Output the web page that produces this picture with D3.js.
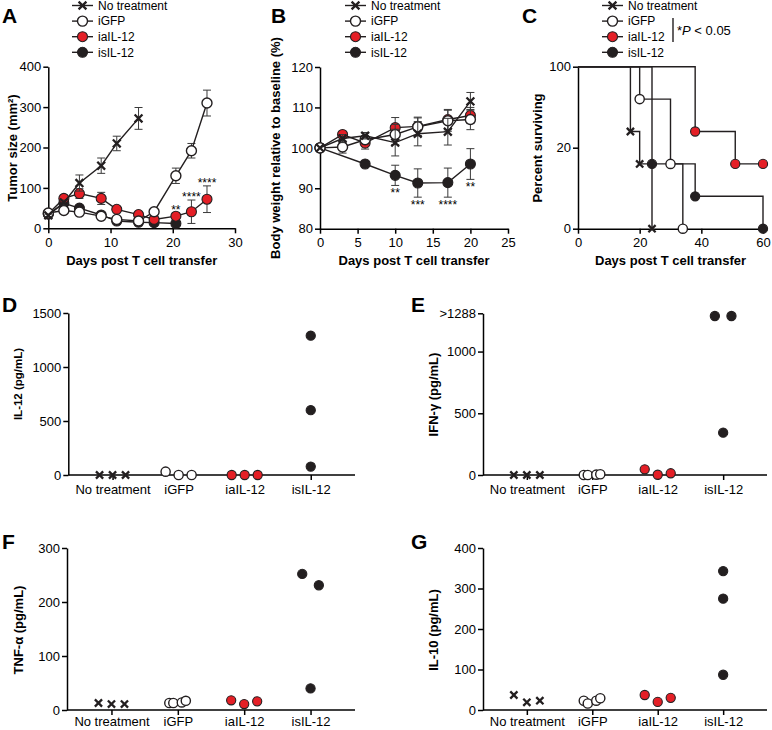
<!DOCTYPE html>
<html><head><meta charset="utf-8">
<script src="https://cdn.jsdelivr.net/npm/d3@7"></script>
<style>
body{margin:0;background:#fff}
svg{display:block}
</style>
</head><body>
<svg id="fig" width="772" height="730"></svg>
<script>
// ================= DATA =================
const groups = ["No treatment", "iGFP", "iaIL-12", "isIL-12"];

// Panel A: tumor size (mm2), mean and SEM
const aDaysNT  = [0, 2.5, 5, 8.5, 11, 14.5];
const aMeanNT  = [32, 64, 112, 155, 210, 272];
const aErrNT   = [3, 6, 20, 19, 18, 27];
const aDaysGFP = [0, 2.5, 5, 8.5, 11, 14.5, 17, 20.5, 23, 25.5];
const aMeanGFP = [38, 44, 40, 30, 22, 18, 41, 130, 192, 310];
const aErrGFP  = [3, 5, 5, 5, 4, 3, 5, 19, 18, 32];
const aDaysIA  = [0, 2.5, 5, 8.5, 11, 14.5, 17, 20.5, 23, 25.5];
const aMeanIA  = [36, 74, 86, 74, 47, 34, 22, 30, 41, 72];
const aErrIA   = [4, 8, 12, 15, 6, 5, 5, 8, 29, 33];
const aDaysIS  = [0, 2.5, 5, 8.5, 11, 14.5, 17, 20.5];
const aMeanIS  = [35, 62, 50, 33, 18, 15, 14, 12];
const aErrIS   = [3, 6, 6, 4, 3, 3, 3, 3];
const aStarDays = [20.5, 23, 25.5];
const aStars    = ["**", "****", "****"];
const aXTicks = [0, 10, 20, 30];
const aYTicks = [0, 100, 200, 300, 400];

// Panel B: body weight relative to baseline (%)
const bDays     = [0, 3, 6, 10, 13, 17, 20];
const bMeanNT   = [100, 102.3, 103, 101.3, 103.5, 104, 111.5];
const bErrNT    = [0, 1, 0.8, 3.3, 3, 3.3, 2.2];
const bMeanGFP  = [100, 100.2, 102, 103.3, 105.2, 106.7, 107];
const bErrGFP   = [0, 1.5, 1, 2.5, 2.2, 2.6, 2.5];
const bMeanIA   = [100, 103.3, 101.2, 105, 105.3, 107, 108];
const bErrIA    = [0, 0.7, 1.5, 2.5, 2.3, 2.5, 2];
const bDaysIS   = [0, 6, 10, 13, 17, 20];
const bMeanIS   = [100, 96, 93.2, 91.3, 91.4, 96];
const bErrIS    = [0, 0.6, 2.5, 3.5, 3.6, 3.8];
const bStarDays = [10, 13, 17, 20];
const bStars    = ["**", "***", "****", "**"];
const bXTicks = [0, 5, 10, 15, 20, 25];
const bYTicks = [80, 90, 100, 110, 120];

// Panel C: survival (percent surviving)
const cTimesNT  = [0, 17, 20, 24];
const cSurvNT   = [100, 60, 40, 0];
const cTimesGFP = [0, 20, 30, 34];
const cSurvGFP  = [100, 80, 40, 0];
const cTimesIA  = [0, 38, 51, 60];
const cSurvIA   = [100, 60, 40, 40];
const cTimesIS  = [0, 24, 38, 60];
const cSurvIS   = [100, 40, 20, 0];
const cXTicks = [0, 20, 40, 60];
const cYTicks = [0, 50, 100];
const cYTickLabels = ["0", "20", "100"];

// Panel D: IL-12 (pg/mL)
const dNT = [0, 0, 0], dGFP = [31, 0, 0], dIA = [0, 0, 0], dIS = [1290, 600, 78];
const dYTicks = [0, 500, 1000, 1500];
// Panel E: IFN-gamma (pg/mL)
const eNT = [0, 0, 0], eGFP = [0, 0, 3, 6], eIA = [46, 2, 14], eIS = [1288, 1288, 343];
const eYTicks = [0, 500, 1000, 1310];
const eYTickLabels = ["0", "500", "1000", ">1288"];
// Panel F: TNF-alpha (pg/mL)
const fNT = [13, 11, 11], fGFP = [13, 13, 14, 17], fIA = [18, 11, 16], fIS = [252, 231, 40];
const fYTicks = [0, 100, 200, 300];
// Panel G: IL-10 (pg/mL)
const gNT = [37, 19, 23], gGFP = [23, 16, 23, 29], gIA = [37, 20, 30], gIS = [343, 275, 87];
const gYTicks = [0, 100, 200, 300, 400];

// ================= DRAWING =================
const FONT = '"Liberation Sans", Arial, Helvetica, sans-serif';
const RED = "#e41f26", DARK = "#231f20";
const svg = d3.select("#fig").attr("font-family", FONT);
const types = ["x", "open", "red", "dark"];

function drawMarker(g, type, x, y, r) {
  if (type === "x") {
    const s = r * 0.78;
    g.append("path").attr("d", `M${x-s},${y-s}L${x+s},${y+s}M${x-s},${y+s}L${x+s},${y-s}`)
      .attr("stroke", DARK).attr("stroke-width", 2.3).attr("fill", "none");
  } else {
    g.append("circle").attr("cx", x).attr("cy", y).attr("r", r)
      .attr("fill", type === "open" ? "#fff" : type === "red" ? RED : DARK)
      .attr("stroke", DARK).attr("stroke-width", type === "open" ? 1.4 : 1.1);
  }
}

function styleAxis(sel, fs) {
  sel.select(".domain").attr("stroke", "#000").attr("stroke-width", 1.5);
  sel.selectAll(".tick line").attr("stroke", "#000").attr("stroke-width", 1.5);
  sel.selectAll(".tick text").attr("font-size", fs || 13).attr("font-family", FONT).attr("fill", "#000");
}

function letter(t, x, y) {
  svg.append("text").attr("x", x).attr("y", y).attr("font-size", 21).attr("font-weight", "bold").text(t);
}

function yTitle(t, x, y, fs) {
  svg.append("text").attr("transform", `translate(${x},${y}) rotate(-90)`)
    .attr("text-anchor", "middle").attr("font-size", fs || 13).attr("font-weight", "bold").text(t);
}
function xTitle(t, x, y) {
  svg.append("text").attr("x", x).attr("y", y)
    .attr("text-anchor", "middle").attr("font-size", 13).attr("font-weight", "bold").text(t);
}

function legend(x0, y0) {
  const g = svg.append("g");
  groups.forEach((name, i) => {
    const y = y0 + i * 15.6;
    g.append("line").attr("x1", x0).attr("x2", x0 + 21).attr("y1", y).attr("y2", y)
      .attr("stroke", DARK).attr("stroke-width", 1.4);
    drawMarker(g, types[i], x0 + 10.5, y, 5);
    g.append("text").attr("x", x0 + 26).attr("y", y + 4.3).attr("font-size", 12).text(name);
  });
  return g;
}

function axes(g, x, y, xt, yt, ytl) {
  const ax = g.append("g").attr("transform", `translate(0,${y.range()[0]})`)
    .call(d3.axisBottom(x).tickValues(xt).tickSize(5).tickSizeOuter(0).tickPadding(4));
  styleAxis(ax);
  const ay = g.append("g").attr("transform", `translate(${x.range()[0]},0)`)
    .call(d3.axisLeft(y).tickValues(yt).tickSize(5).tickSizeOuter(0).tickPadding(2)
      .tickFormat((d, i) => ytl ? ytl[i] : d));
  styleAxis(ay);
}

function lineSeries(g, x, y, days, mean, err, type, r) {
  const pts = days.map((d, i) => [d, mean[i], err[i]]);
  const eb = g.append("g");
  pts.forEach(p => {
    if (!p[2]) return;
    const x0 = x(p[0]), y1 = y(p[1] - p[2]), y2 = y(p[1] + p[2]);
    eb.append("path").attr("d", `M${x0},${y1}V${y2}M${x0-4},${y1}H${x0+4}M${x0-4},${y2}H${x0+4}`)
      .attr("stroke", "#3a3a3a").attr("stroke-width", 1).attr("fill", "none");
  });
  g.append("path").datum(pts).attr("fill", "none").attr("stroke", DARK).attr("stroke-width", 1.4)
    .attr("d", d3.line().x(d => x(d[0])).y(d => y(d[1])));
  pts.forEach(p => drawMarker(g, type, x(p[0]), y(p[1]), r));
}

// ---------- Panel A ----------
{
  const g = svg.append("g");
  const x = d3.scaleLinear([0, 30], [48.3, 235]);
  const y = d3.scaleLinear([0, 400], [228.3, 66.7]);
  axes(g, x, y, aXTicks, aYTicks);
  lineSeries(g, x, y, aDaysIS, aMeanIS, aErrIS, "dark", 5);
  lineSeries(g, x, y, aDaysIA, aMeanIA, aErrIA, "red", 5);
  lineSeries(g, x, y, aDaysGFP, aMeanGFP, aErrGFP, "open", 5);
  lineSeries(g, x, y, aDaysNT, aMeanNT, aErrNT, "x", 5);
  aStarDays.forEach((d, i) => {
    const k = aDaysIA.indexOf(d);
    g.append("text").attr("x", x(d)).attr("y", y(aMeanIA[k] + aErrIA[k]) + 1)
      .attr("text-anchor", "middle").attr("font-size", 12).text(aStars[i]);
  });
  letter("A", 2, 23);
  legend(72, 5.5);
  yTitle("Tumor size (mm²)", 16.5, 148);
  xTitle("Days post T cell transfer", 141.7, 264.5);
}

// ---------- Panel B ----------
{
  const g = svg.append("g");
  const x = d3.scaleLinear([0, 25], [320, 508]);
  const y = d3.scaleLinear([80, 120], [228.7, 67]);
  axes(g, x, y, bXTicks, bYTicks);
  lineSeries(g, x, y, bDaysIS, bMeanIS, bErrIS, "dark", 5);
  lineSeries(g, x, y, bDays, bMeanIA, bErrIA, "red", 5);
  lineSeries(g, x, y, bDays, bMeanGFP, bErrGFP, "open", 5);
  lineSeries(g, x, y, bDays, bMeanNT, bErrNT, "x", 5);
  bStarDays.forEach((d, i) => {
    const k = bDaysIS.indexOf(d);
    g.append("text").attr("x", x(d)).attr("y", y(bMeanIS[k] - bErrIS[k]) + 11.5)
      .attr("text-anchor", "middle").attr("font-size", 12).text(bStars[i]);
  });
  letter("B", 271, 23);
  legend(345, 5.5);
  yTitle("Body weight relative to baseline (%)", 280, 148);
  xTitle("Days post T cell transfer", 414, 264.5);
}

// ---------- Panel C ----------
{
  const g = svg.append("g");
  const x = d3.scaleLinear([0, 60], [578, 763]);
  const y = d3.scaleLinear([0, 100], [228.7, 66.7]);
  axes(g, x, y, cXTicks, cYTicks, cYTickLabels);
  const series = [
    [cTimesIS, cSurvIS, "dark"], [cTimesIA, cSurvIA, "red"],
    [cTimesGFP, cSurvGFP, "open"], [cTimesNT, cSurvNT, "x"]
  ];
  series.forEach(([t, s, type]) => {
    const pts = t.map((d, i) => [d, s[i]]);
    g.append("path").datum(pts).attr("fill", "none").attr("stroke", DARK).attr("stroke-width", 1.4)
      .attr("d", d3.line().curve(d3.curveStepAfter).x(d => x(d[0])).y(d => y(d[1])));
    pts.slice(1).forEach(p => drawMarker(g, type, x(p[0]), y(p[1]), 4.6));
  });
  letter("C", 522, 23);
  legend(602, 5.5);
  svg.append("line").attr("x1", 673).attr("x2", 673).attr("y1", 18).attr("y2", 42)
    .attr("stroke", DARK).attr("stroke-width", 1.4);
  const pt = svg.append("text").attr("x", 677).attr("y", 34.5).attr("font-size", 13);
  pt.append("tspan").text("*");
  pt.append("tspan").attr("font-style", "italic").text("P");
  pt.append("tspan").text(" < 0.05");
  yTitle("Percent surviving", 542, 148);
  xTitle("Days post T cell transfer", 670.5, 264.5);
}

// ---------- Panels D–G ----------
const offsetPatterns = {1: [0], 2: [-8.3, 8.3], 3: [-13, 0, 13], 4: [-8.5, -4.5, 4, 8]};
function dodge(vals, y) {
  const clusters = [];
  const offs = new Array(vals.length).fill(0);
  vals.forEach((v, i) => {
    const c = clusters.find(cl => cl.every(j => Math.abs(y(vals[j]) - y(v)) < 12));
    if (c) c.push(i); else clusters.push([i]);
  });
  clusters.forEach(cl => {
    const pat = offsetPatterns[cl.length] || cl.map((_, k) => (k - (cl.length - 1) / 2) * 9);
    cl.forEach((j, k) => offs[j] = pat[k]);
  });
  return offs;
}

function dotPanel(cfg) {
  const g = svg.append("g");
  const x = d3.scalePoint(groups, [cfg.x0, cfg.x1]).padding(0.67);
  const y = d3.scaleLinear([0, cfg.max], [cfg.yb, cfg.yt]);
  const ax = g.append("g").attr("transform", `translate(0,${cfg.yb})`)
    .call(d3.axisBottom(x).tickSize(5).tickSizeOuter(0).tickPadding(cfg.pad));
  styleAxis(ax);
  ax.select(".domain").attr("d", `M${cfg.x0},0H${cfg.x1}`);
  const ay = g.append("g").attr("transform", `translate(${cfg.x0},0)`)
    .call(d3.axisLeft(y).tickValues(cfg.ticks).tickSize(5).tickSizeOuter(0).tickPadding(2)
      .tickFormat((d, i) => cfg.tickLabels ? cfg.tickLabels[i] : d));
  styleAxis(ay);
  cfg.values.forEach((vals, gi) => {
    const offs = dodge(vals, y);
    vals.forEach((v, i) => drawMarker(g, types[gi], x(groups[gi]) + offs[i], y(v), 4.6));
  });
  letter(cfg.letter, cfg.lx, cfg.ly);
  yTitle(cfg.title, cfg.tx, cfg.ty, cfg.tfs);
}

dotPanel({x0: 68.3, x1: 355, yb: 475, yt: 313, max: 1500, ticks: dYTicks, pad: 5,
  values: [dNT, dGFP, dIA, dIS], letter: "D", lx: 2, ly: 312,
  title: "IL-12 (pg/mL)", tx: 22, ty: 384, tfs: 11.5});
dotPanel({x0: 483, x1: 767, yb: 475, yt: 313.3, max: 1310, ticks: eYTicks, tickLabels: eYTickLabels, pad: 5,
  values: [eNT, eGFP, eIA, eIS], letter: "E", lx: 411, ly: 312,
  title: "IFN-γ (pg/mL)", tx: 437.5, ty: 394.5});
dotPanel({x0: 67, x1: 355, yb: 710, yt: 548, max: 300, ticks: fYTicks, pad: 2,
  values: [fNT, fGFP, fIA, fIS], letter: "F", lx: 2, ly: 549,
  title: "TNF-α (pg/mL)", tx: 22.5, ty: 630});
dotPanel({x0: 483, x1: 767, yb: 710, yt: 548, max: 400, ticks: gYTicks, pad: 2,
  values: [gNT, gGFP, gIA, gIS], letter: "G", lx: 411, ly: 549,
  title: "IL-10 (pg/mL)", tx: 437.5, ty: 630});
</script>
</body></html>
